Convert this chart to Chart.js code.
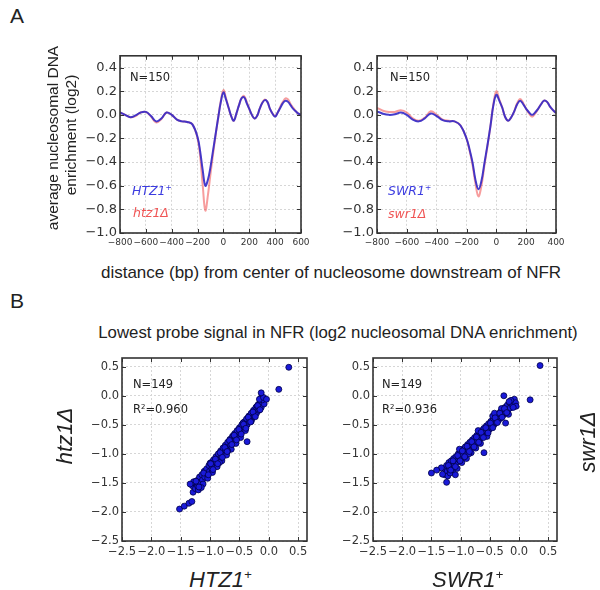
<!DOCTYPE html>
<html>
<head>
<meta charset="utf-8">
<script src="https://cdn.jsdelivr.net/npm/chart.js@4.4.0/dist/chart.umd.min.js"></script>
<style>
  body { margin: 0; width: 600px; height: 590px; position: relative; background: #fff; overflow: hidden;
         font-family: "Liberation Sans", Arial, sans-serif; color: #222; }
  canvas { position: absolute; }
  .t { position: absolute; white-space: nowrap; transform: translate(0, -50%); }
  .c { position: absolute; white-space: nowrap; transform: translate(-50%, -50%); }
  .r { position: absolute; white-space: nowrap; transform: translate(-50%, -50%) rotate(-90deg); }
  .n { font-family: "DejaVu Sans", sans-serif; font-size: 11.5px; color: #222; }
  .i { font-style: italic; }
  sup { font-size: 60%; vertical-align: 0.6em; line-height: 0; }
</style>
</head>
<body>

<canvas id="a1" width="255" height="210" style="left:60px;top:45px"></canvas>
<canvas id="a2" width="253" height="210" style="left:317px;top:45px"></canvas>
<canvas id="b1" width="259" height="216" style="left:62px;top:345px"></canvas>
<canvas id="b2" width="258" height="216" style="left:313px;top:345px"></canvas>

<div class="c" style="left:17px;top:16px;font-size:21px">A</div>
<div class="c" style="left:17px;top:301px;font-size:21px">B</div>

<div class="r" style="left:53px;top:138px;font-size:15.5px">average nucleosomal DNA</div>
<div class="r" style="left:71px;top:135px;font-size:15.5px">enrichment (log2)</div>
<div class="c" style="left:331px;top:273px;font-size:17px">distance (bp) from center of nucleosome downstream of NFR</div>

<div class="t n" style="left:130px;top:77px">N=150</div>
<div class="t n i" style="left:132px;top:190px;color:#3c3ce0;font-size:12.5px">HTZ1<sup>+</sup></div>
<div class="t n i" style="left:133px;top:212px;color:#f05555;font-size:12.5px">htz1Δ</div>

<div class="t n" style="left:390px;top:77px">N=150</div>
<div class="t n i" style="left:388px;top:190px;color:#3c3ce0;font-size:12.5px">SWR1<sup>+</sup></div>
<div class="t n i" style="left:388px;top:213px;color:#f05555;font-size:12.5px">swr1Δ</div>

<div class="c" style="left:338px;top:333px;font-size:16.8px">Lowest probe signal in NFR (log2 nucleosomal DNA enrichment)</div>

<div class="t n" style="left:133px;top:384px">N=149</div>
<div class="t n" style="left:133px;top:409px">R<sup>2</sup>=0.960</div>
<div class="t n" style="left:382px;top:384px">N=149</div>
<div class="t n" style="left:382px;top:409px">R<sup>2</sup>=0.936</div>

<div class="r i" style="left:65px;top:436px;font-size:22px">htz1Δ</div>
<div class="r i" style="left:588px;top:442px;font-size:22px">swr1Δ</div>
<div class="t i" style="left:189px;top:580px;font-size:22px">HTZ1<sup>+</sup></div>
<div class="t i" style="left:432px;top:580px;font-size:22px">SWR1<sup>+</sup></div>

<script>
// --- Panel A: average profiles around nucleosome downstream of NFR ---
const distHtz = [-800, -760, -720, -680, -640, -600, -560, -520, -480, -440, -400, -360, -320, -280, -240,
  -200, -180, -160, -140, -120, -100, -80, -60, -40, -20, 0, 20, 40, 60, 80, 100, 120, 140, 160, 180, 200,
  220, 240, 260, 280, 300, 320, 340, 360, 380, 400, 420, 440, 460, 480, 500, 520, 540, 560, 580, 600];
const htz1Plus = [0.02, 0.00, -0.02, -0.005, 0.02, 0.025, -0.01, -0.055, -0.03, 0.02, 0.00, -0.04, -0.055, -0.06, -0.08,
  -0.19, -0.31, -0.47, -0.60, -0.55, -0.44, -0.30, -0.16, -0.02, 0.11, 0.19, 0.13, 0.06, -0.01, -0.05, 0.01, 0.08, 0.14, 0.15, 0.10, 0.05,
  0.00, -0.03, -0.01, 0.05, 0.10, 0.125, 0.11, 0.05, 0.01, -0.015, 0.02, 0.06, 0.10, 0.12, 0.11, 0.08, 0.05, 0.03, 0.01, 0.00];
const htz1Del = [0.02, 0.00, -0.02, -0.01, 0.02, 0.025, -0.015, -0.065, -0.035, 0.02, 0.00, -0.04, -0.055, -0.06, -0.08,
  -0.20, -0.35, -0.60, -0.81, -0.68, -0.50, -0.33, -0.17, -0.02, 0.12, 0.21, 0.14, 0.06, -0.01, -0.05, 0.01, 0.08, 0.14, 0.16, 0.11, 0.05,
  0.00, -0.03, -0.01, 0.05, 0.10, 0.13, 0.11, 0.05, 0.01, -0.01, 0.02, 0.07, 0.11, 0.14, 0.13, 0.09, 0.06, 0.03, 0.01, 0.00];

const distSwr = [-800, -760, -720, -680, -640, -600, -560, -520, -480, -440, -400, -360, -320, -280, -240,
  -200, -180, -160, -140, -120, -100, -80, -60, -40, -20, 0, 20, 40, 60, 80, 100, 120, 140, 160, 180, 200,
  220, 240, 260, 280, 300, 320, 340, 360, 380, 400];
const swr1Plus = [0.03, 0.01, 0.00, 0.005, 0.02, 0.00, -0.04, -0.055, -0.03, 0.012, -0.01, -0.045, -0.055, -0.055, -0.09,
  -0.20, -0.29, -0.40, -0.55, -0.63, -0.56, -0.41, -0.26, -0.10, 0.08, 0.17, 0.12, 0.06, -0.02, -0.05, -0.02, 0.03, 0.09, 0.12, 0.09, 0.05,
  0.02, 0.00, 0.02, 0.05, 0.09, 0.12, 0.11, 0.07, 0.04, 0.015];
const swr1Del = [0.06, 0.035, 0.025, 0.025, 0.04, 0.02, -0.03, -0.05, -0.025, 0.03, 0.00, -0.04, -0.05, -0.055, -0.09,
  -0.20, -0.30, -0.42, -0.58, -0.69, -0.60, -0.43, -0.27, -0.10, 0.09, 0.20, 0.13, 0.06, -0.02, -0.05, -0.02, 0.03, 0.10, 0.135, 0.10, 0.05,
  0.01, -0.015, 0.01, 0.05, 0.09, 0.12, 0.11, 0.07, 0.04, 0.015];

const yTicksA = [-1.0, -0.8, -0.6, -0.4, -0.2, 0.0, 0.2, 0.4];

// --- Panel B: lowest probe signal in NFR, wild type (x) vs deletion (y) ---
const htzX = [-1.30, -1.29, -1.26, -1.25, -1.22, -1.21, -1.20, -1.18, -1.17, -1.14, -1.13, -1.12, -1.10, -1.09,
  -1.06, -1.05, -1.04, -1.02, -1.01, -0.98, -0.97, -0.96, -0.94, -0.93, -0.90, -0.89, -0.88, -0.86, -0.85,
  -0.82, -0.81, -0.80, -0.78, -0.77, -0.74, -0.73, -0.72, -0.70, -0.69, -0.66, -0.65, -0.64, -0.62, -0.61,
  -0.58, -0.57, -0.56, -0.54, -0.53, -0.50, -0.49, -0.48, -0.46, -0.45, -0.42, -0.41, -0.40, -0.38, -0.37,
  -0.34, -0.33, -0.30, -0.29, -0.26, -0.25, -0.22, -0.21, -0.18, -0.17, -0.14, -0.13, -0.10, -0.08,
  -1.28, -1.15, -1.00, -0.84, -0.70, -0.60, -0.44, -0.30, -0.20, -0.12,
  -1.24, -1.19, -1.11, -1.03, -0.99, -0.95, -0.91, -0.87, -0.83, -0.79, -0.75, -0.71, -0.67, -0.63, -0.59,
  -0.55, -0.51, -0.47, -0.43, -0.39, -0.35, -0.31, -0.27, -0.23, -0.19, -0.15, -0.11, -0.16, -0.09, -1.34,
  -1.52, -1.44, -1.36, -1.31,
  0.34, 0.17, -0.13, -0.04, -0.37];
const htzY = [-1.55, -1.66, -1.50, -1.60, -1.46, -1.56, -1.62, -1.40, -1.50, -1.36, -1.45, -1.52, -1.30, -1.40,
  -1.26, -1.35, -1.42, -1.20, -1.30, -1.15, -1.26, -1.32, -1.10, -1.20, -1.05, -1.15, -1.22, -1.00, -1.10,
  -0.95, -1.05, -1.12, -0.90, -1.00, -0.85, -0.95, -1.02, -0.80, -0.90, -0.75, -0.85, -0.92, -0.70, -0.80,
  -0.65, -0.75, -0.82, -0.60, -0.70, -0.55, -0.65, -0.72, -0.50, -0.60, -0.45, -0.55, -0.60, -0.40, -0.50,
  -0.35, -0.45, -0.30, -0.40, -0.25, -0.35, -0.20, -0.30, -0.15, -0.25, -0.10, -0.20, -0.06, -0.14,
  -1.48, -1.58, -1.16, -1.15, -0.95, -0.68, -0.47, -0.44, -0.18, -0.02,
  -1.47, -1.57, -1.33, -1.36, -1.17, -1.27, -1.09, -1.17, -0.98, -1.06, -0.89, -0.96, -0.77, -0.84, -0.68,
  -0.76, -0.58, -0.66, -0.49, -0.56, -0.37, -0.45, -0.28, -0.36, -0.17, -0.24, -0.07, -0.06, -0.03, -1.52,
  -1.95, -1.90, -1.85, -1.82,
  0.49, 0.11, 0.05, -0.06, -0.79];

const swrX = [-1.28, -1.27, -1.24, -1.23, -1.22, -1.20, -1.19, -1.16, -1.15, -1.14, -1.12, -1.11, -1.08, -1.07, -1.06,
  -1.04, -1.03, -1.00, -0.99, -0.98, -0.96, -0.95, -0.92, -0.91, -0.90, -0.88, -0.87, -0.84, -0.83, -0.82,
  -0.80, -0.79, -0.76, -0.75, -0.74, -0.72, -0.71, -0.68, -0.67, -0.66, -0.64, -0.63, -0.60, -0.59,
  -0.56, -0.55, -0.52, -0.51, -0.48, -0.47, -0.44, -0.43, -0.40, -0.39, -0.36, -0.35, -0.32, -0.31,
  -0.28, -0.27, -0.24, -0.23, -0.20, -0.19, -0.16, -0.15, -0.12, -0.11, -0.08, -0.06,
  -1.18, -1.02, -0.86, -0.70, -0.55, -0.45, -0.30, -0.18, -0.05, -0.42,
  -1.21, -1.17, -1.13, -1.09, -1.05, -1.01, -0.97, -0.93, -0.89, -0.85, -0.81, -0.77, -0.73, -0.69, -0.65,
  -0.61, -0.57, -0.53, -0.49, -0.45, -0.41, -0.37, -0.33, -0.29, -0.25, -0.21, -0.14, -0.10, -1.33,
  -1.50, -1.41, -1.31, -1.24, -1.09, 0.36, 0.19, -0.26, -0.23, -0.60, -0.17];
const swrY = [-1.25, -1.36, -1.20, -1.30, -1.38, -1.15, -1.26, -1.12, -1.22, -1.30, -1.08, -1.20, -1.05, -1.15, -1.25,
  -1.00, -1.10, -0.96, -1.06, -1.15, -0.92, -1.02, -0.88, -0.98, -1.08, -0.84, -0.94, -0.80, -0.90, -0.98,
  -0.76, -0.86, -0.72, -0.82, -0.90, -0.68, -0.78, -0.64, -0.74, -0.82, -0.60, -0.70, -0.56, -0.66,
  -0.52, -0.62, -0.48, -0.58, -0.44, -0.54, -0.40, -0.50, -0.36, -0.46, -0.32, -0.42, -0.28, -0.38,
  -0.24, -0.33, -0.20, -0.29, -0.16, -0.25, -0.12, -0.21, -0.08, -0.17, -0.06, -0.12,
  -1.33, -0.92, -1.00, -0.60, -0.70, -0.35, -0.22, -0.32, -0.18, -0.30,
  -1.20, -1.28, -1.12, -1.22, -1.03, -1.12, -0.95, -1.05, -0.87, -0.96, -0.79, -0.88, -0.71, -0.80, -0.63,
  -0.72, -0.55, -0.64, -0.47, -0.55, -0.38, -0.46, -0.30, -0.37, -0.22, -0.29, -0.08, -0.20, -1.24,
  -1.33, -1.28, -1.35, -1.49, -1.36, 0.52, -0.07, 0.00, -0.47, -0.98, -0.10];

// --- Helpers ---
const fmt = (v, d) => (Math.abs(v) < 1e-9 ? 0 : v).toFixed(d).replace("-", "\u2212");
const pairs = (xs, ys) => xs.map((x, i) => ({ x, y: ys[i] }));

// frame around plot + inward ticks on all four sides (matplotlib look)
const frame = {
  id: "frame",
  afterDraw(chart) {
    const { ctx, chartArea: a, scales: { x, y } } = chart;
    ctx.save();
    ctx.strokeStyle = "#333";
    ctx.lineWidth = 1;
    ctx.beginPath();
    x.ticks.forEach(t => {
      const p = Math.round(x.getPixelForValue(t.value)) + 0.5;
      ctx.moveTo(p, a.bottom); ctx.lineTo(p, a.bottom - 4);
      ctx.moveTo(p, a.top); ctx.lineTo(p, a.top + 4);
    });
    y.ticks.forEach(t => {
      const p = Math.round(y.getPixelForValue(t.value)) + 0.5;
      ctx.moveTo(a.left, p); ctx.lineTo(a.left + 4, p);
      ctx.moveTo(a.right, p); ctx.lineTo(a.right - 4, p);
    });
    ctx.stroke();
    ctx.lineWidth = 1.6;
    ctx.strokeRect(a.left, a.top, a.right - a.left, a.bottom - a.top);
    ctx.restore();
  }
};

function axis(min, max, step, digits, size, fixed, horizontal) {
  return {
    type: "linear", min, max,
    grid: { color: "#d6d6d6", drawTicks: false },
    border: { display: false, dash: [2, 2] },
    ticks: {
      stepSize: step, includeBounds: false, autoSkip: false, maxRotation: 0,
      padding: horizontal ? 4 : 3, color: "#333",
      font: { family: "DejaVu Sans", size },
      callback: v => fmt(v, digits)
    },
    afterFit: s => { if (horizontal) s.height = fixed; else s.width = fixed; }
  };
}

const base = (pad) => ({
  responsive: false, animation: false,
  layout: { padding: pad },
  plugins: { legend: { display: false }, tooltip: { enabled: false } }
});

function profile(id, dist, plus, del, xmax) {
  new Chart(document.getElementById(id), {
    type: "line",
    data: {
      datasets: [
        { data: pairs(dist, plus), borderColor: "rgba(50,40,200,0.9)", borderWidth: 2, pointRadius: 0, tension: 0.4 },
        { data: pairs(dist, del), borderColor: "rgba(240,60,60,0.5)", borderWidth: 2, pointRadius: 0, tension: 0.4 }
      ]
    },
    options: {
      ...base({ top: 10, right: 14, left: 0, bottom: 0 }),
      scales: {
        x: axis(-800, xmax, 200, 0, 9, 22, true),
        y: { ...axis(-1.0, 0.5, 0.2, 1, 13, 60, false),
             afterBuildTicks: s => { s.ticks = yTicksA.map(v => ({ value: v })); } }
      }
    },
    plugins: [frame]
  });
}

function scatter(id, xs, ys) {
  new Chart(document.getElementById(id), {
    type: "scatter",
    data: {
      datasets: [{ data: pairs(xs, ys), backgroundColor: "#1a1ad8", borderColor: "#000046",
                   borderWidth: 0.8, pointRadius: 3 }]
    },
    options: {
      ...base({ top: 13, right: 14, left: 0, bottom: 0 }),
      scales: {
        x: axis(-2.5, 0.65, 0.5, 1, 11.5, 20, true),
        y: axis(-2.5, 0.65, 0.5, 1, 11.5, 60, false)
      }
    },
    plugins: [frame]
  });
}

profile("a1", distHtz, htz1Plus, htz1Del, 600);
profile("a2", distSwr, swr1Plus, swr1Del, 400);
scatter("b1", htzX, htzY);
scatter("b2", swrX, swrY);
</script>
</body>
</html>
